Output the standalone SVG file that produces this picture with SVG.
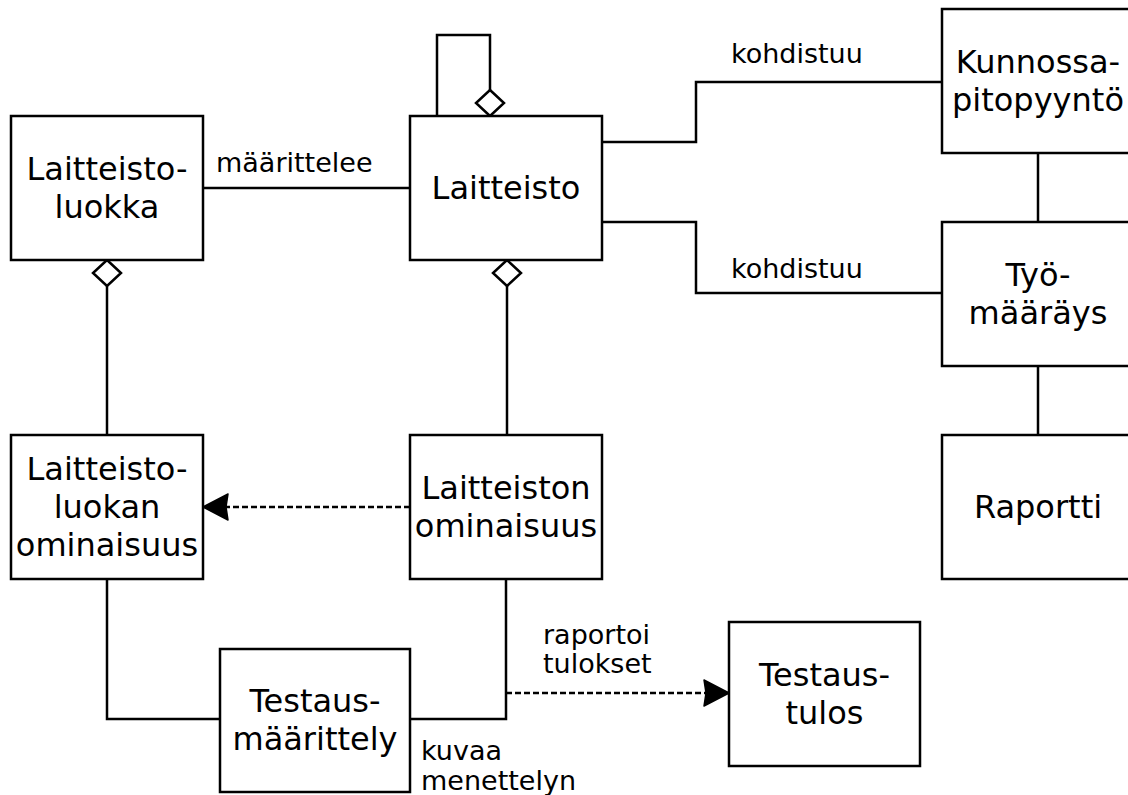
<svg xmlns="http://www.w3.org/2000/svg" width="1128" height="795" viewBox="0 0 1128 795">
  <style>
    .box { fill: #ffffff; stroke: #000000; stroke-width: 2.5; }
    .line { fill: none; stroke: #000000; stroke-width: 2.5; }
    .dash { fill: none; stroke: #000000; stroke-width: 2.5; stroke-dasharray: 6 3; }
    .diamond { fill: #ffffff; stroke: #000000; stroke-width: 2.5; }
    .name { font-family: "DejaVu Sans", "Liberation Sans", sans-serif; font-size: 32px; fill: #000000; text-anchor: middle; }
    .label { font-family: "DejaVu Sans", "Liberation Sans", sans-serif; font-size: 27px; fill: #000000; }
  </style>
  <defs>
    <marker id="head" viewBox="0 0 28 28" refX="27" refY="14" markerWidth="28" markerHeight="28" markerUnits="userSpaceOnUse" orient="auto">
      <path d="M27,14 L2,1 L4,14 L2,27 Z" fill="#000000" stroke="#000000" stroke-width="1.5" stroke-linejoin="round"/>
    </marker>
  </defs>
  <rect width="1128" height="795" fill="#ffffff"/>

  <!-- connectors -->
  <g id="connectors">
    <!-- self aggregation on Laitteisto -->
    <polyline class="line" points="437,116 437,35 490,35 490,90"/>
    <polygon class="diamond" points="490,90 504,103 490,116 476,103"/>
    <!-- Laitteistoluokka - Laitteisto -->
    <line class="line" x1="203" y1="188" x2="410" y2="188"/>
    <text class="label" x="216" y="172">määrittelee</text>
    <!-- Laitteisto - Kunnossapitopyyntö -->
    <polyline class="line" points="602,142 696,142 696,82 942,82"/>
    <text class="label" x="731" y="63">kohdistuu</text>
    <!-- Laitteisto - Työmääräys -->
    <polyline class="line" points="602,222 696,222 696,293 942,293"/>
    <text class="label" x="731" y="278">kohdistuu</text>
    <!-- Kunnossapitopyyntö - Työmääräys - Raportti -->
    <line class="line" x1="1038" y1="153" x2="1038" y2="222"/>
    <line class="line" x1="1038" y1="366" x2="1038" y2="435"/>
    <!-- Laitteistoluokka aggregates Laitteistoluokan ominaisuus -->
    <polygon class="diamond" points="107,260 121,273 107,286 93,273"/>
    <line class="line" x1="107" y1="286" x2="107" y2="435"/>
    <!-- Laitteisto aggregates Laitteiston ominaisuus -->
    <polygon class="diamond" points="507,260 521,273 507,286 493,273"/>
    <line class="line" x1="507" y1="286" x2="507" y2="435"/>
    <!-- Laitteiston ominaisuus depends on Laitteistoluokan ominaisuus -->
    <line class="dash" x1="410" y1="507" x2="203" y2="507" marker-end="url(#head)"/>
    <!-- Testausmäärittely links -->
    <polyline class="line" points="107,579 107,719 220,719"/>
    <polyline class="line" points="506,579 506,719 410,719"/>
    <text class="label" x="421" y="760">kuvaa</text>
    <text class="label" x="421" y="790">menettelyn</text>
    <!-- raportoi tulokset -->
    <line class="dash" x1="506" y1="693" x2="729" y2="693" marker-end="url(#head)"/>
    <text class="label" x="543" y="644">raportoi</text>
    <text class="label" x="543" y="673">tulokset</text>
  </g>

  <!-- nodes -->
  <g id="laitteistoluokka">
    <rect class="box" x="11" y="116" width="192" height="144"/>
    <text class="name" x="107" y="179.5">Laitteisto-</text>
    <text class="name" x="107" y="217.5">luokka</text>
  </g>
  <g id="laitteisto">
    <rect class="box" x="410" y="116" width="192" height="144"/>
    <text class="name" x="506" y="198.5">Laitteisto</text>
  </g>
  <g id="kunnossapitopyynto">
    <rect class="box" x="942" y="9" width="192" height="144"/>
    <text class="name" x="1038" y="72.5">Kunnossa-</text>
    <text class="name" x="1038" y="110.5">pitopyyntö</text>
  </g>
  <g id="tyomaarays">
    <rect class="box" x="942" y="222" width="192" height="144"/>
    <text class="name" x="1038" y="285.5">Työ-</text>
    <text class="name" x="1038" y="323.5">määräys</text>
  </g>
  <g id="raportti">
    <rect class="box" x="942" y="435" width="192" height="144"/>
    <text class="name" x="1038" y="517.5">Raportti</text>
  </g>
  <g id="laitteistoluokan-ominaisuus">
    <rect class="box" x="11" y="435" width="192" height="144"/>
    <text class="name" x="107" y="480">Laitteisto-</text>
    <text class="name" x="107" y="518">luokan</text>
    <text class="name" x="107" y="556">ominaisuus</text>
  </g>
  <g id="laitteiston-ominaisuus">
    <rect class="box" x="410" y="435" width="192" height="144"/>
    <text class="name" x="506" y="498.5">Laitteiston</text>
    <text class="name" x="506" y="536.5">ominaisuus</text>
  </g>
  <g id="testausmaarittely">
    <rect class="box" x="220" y="649" width="190" height="143"/>
    <text class="name" x="315" y="712">Testaus-</text>
    <text class="name" x="315" y="750">määrittely</text>
  </g>
  <g id="testaustulos">
    <rect class="box" x="729" y="622" width="191" height="144"/>
    <text class="name" x="824.5" y="685.5">Testaus-</text>
    <text class="name" x="824.5" y="723.5">tulos</text>
  </g>
</svg>
